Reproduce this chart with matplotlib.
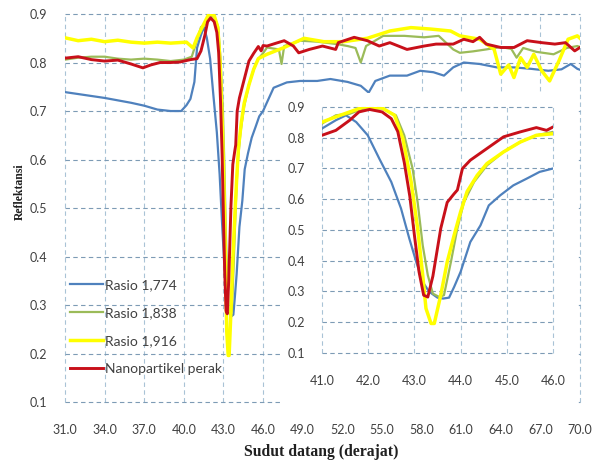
import matplotlib.pyplot as plt
from matplotlib.patches import Rectangle

plt.rcParams['font.family'] = ['Lato', 'DejaVu Sans']

# --- data ---
rasio_1774_x = [31, 32, 33, 34, 35, 36, 37, 38, 39, 39.8,
                40.2, 40.5, 40.8, 41.0, 41.3, 41.52, 41.74, 41.99, 42.24, 42.5,
                42.71, 42.89, 43.04, 43.18, 43.32, 43.5, 43.62, 43.75, 43.86, 44.0,
                44.21, 44.43, 44.61, 44.86, 45.14, 45.43, 45.71, 46.0, 46.8, 47.8,
                48.8, 50.1, 51.1, 52.4, 53.4, 54.0, 54.5, 55.6, 56.9, 57.9,
                58.9, 59.7, 60.4, 61.2, 62.4, 63.7, 65.0, 66.3, 67.6, 68.6,
                69.3, 69.8, 70.0]
rasio_1774_y = [0.739, 0.735, 0.731, 0.727, 0.722, 0.717, 0.711, 0.703, 0.700, 0.700,
                0.712, 0.725, 0.760, 0.830, 0.857, 0.873, 0.851, 0.808, 0.732, 0.656,
                0.570, 0.472, 0.396, 0.331, 0.299, 0.280, 0.277, 0.280, 0.315, 0.364,
                0.461, 0.515, 0.580, 0.613, 0.645, 0.667, 0.689, 0.700, 0.748, 0.759,
                0.762, 0.762, 0.766, 0.760, 0.752, 0.738, 0.762, 0.773, 0.773, 0.783,
                0.780, 0.773, 0.790, 0.800, 0.797, 0.790, 0.790, 0.787, 0.783, 0.786,
                0.797, 0.787, 0.785]

rasio_1838_x = [31, 32, 33, 34, 35, 36, 37, 38, 39, 40,
                40.6, 41.0, 41.3, 41.6, 41.9, 42.3, 42.6, 42.78, 42.96, 43.07,
                43.18, 43.29, 43.4, 43.54, 43.64, 43.79, 43.93, 44.07, 44.29, 44.57,
                44.93, 45.29, 45.64, 46.0, 46.3, 47.2, 47.4, 47.6, 48.8, 50.1,
                51.6, 52.4, 53.0, 53.4, 53.8, 55.1, 56.7, 58.2, 59.3, 60.4,
                60.9, 61.9, 62.9, 64.0, 64.8, 65.2, 65.7, 66.7, 68.0, 69.0,
                69.8, 70.0]
rasio_1838_y = [0.806, 0.810, 0.812, 0.812, 0.808, 0.806, 0.808, 0.806, 0.803, 0.806,
                0.812, 0.846, 0.873, 0.878, 0.895, 0.895, 0.873, 0.808, 0.700, 0.590,
                0.450, 0.353, 0.293, 0.282, 0.288, 0.396, 0.505, 0.590, 0.656, 0.710,
                0.754, 0.786, 0.808, 0.819, 0.831, 0.827, 0.797, 0.834, 0.845, 0.843,
                0.838, 0.834, 0.830, 0.800, 0.834, 0.855, 0.855, 0.852, 0.855, 0.827,
                0.820, 0.823, 0.827, 0.832, 0.828, 0.810, 0.830, 0.822, 0.817, 0.830,
                0.834, 0.832]

rasio_1916_x = [31, 32, 33, 34, 35, 36, 37, 38, 39, 40.2,
                40.7, 41.0, 41.3, 41.6, 41.9, 42.3, 42.57, 42.75, 42.93, 43.07,
                43.18, 43.25, 43.36, 43.43, 43.57, 43.71, 43.86, 44.0, 44.14, 44.36,
                44.57, 44.93, 45.29, 45.64, 46.0, 46.3, 47.6, 49.1, 50.6, 52.1,
                53.9, 55.6, 57.2, 58.7, 60.2, 60.9, 62.4, 63.5, 64.0, 64.6,
                65.0, 65.5, 66.0, 66.5, 67.1, 67.7, 68.4, 69.1, 69.8, 70.0]
rasio_1916_y = [0.851, 0.845, 0.848, 0.843, 0.846, 0.842, 0.840, 0.842, 0.840, 0.842,
                0.830, 0.851, 0.868, 0.884, 0.900, 0.897, 0.873, 0.797, 0.656, 0.505,
                0.353, 0.245, 0.196, 0.196, 0.288, 0.396, 0.483, 0.559, 0.625, 0.678,
                0.716, 0.754, 0.786, 0.808, 0.813, 0.817, 0.831, 0.850, 0.843, 0.843,
                0.850, 0.865, 0.872, 0.869, 0.865, 0.855, 0.848, 0.827, 0.776, 0.795,
                0.769, 0.810, 0.790, 0.817, 0.783, 0.762, 0.803, 0.848, 0.855, 0.850]

perak_x = [31, 32, 33, 34, 35, 36, 36.9, 37.5, 38.2, 39,
           39.7, 40.5, 41.0, 41.3, 41.6, 41.8, 42.03, 42.3, 42.5, 42.64,
           42.78, 42.9, 43.0, 43.1, 43.2, 43.29, 43.4, 43.57, 43.71, 43.86,
           43.93, 44.04, 44.21, 44.57, 44.93, 45.29, 45.64, 45.86, 46.0, 46.3,
           47.0, 47.6, 48.3, 48.7, 49.5, 50.5, 51.5, 51.7, 52.9, 53.9,
           54.8, 55.6, 56.9, 58.2, 59.1, 60.4, 61.2, 61.9, 62.4, 62.9,
           64.0, 65.0, 66.0, 67.1, 68.1, 68.9, 69.6, 70.0]
perak_y = [0.809, 0.812, 0.806, 0.803, 0.805, 0.797, 0.789, 0.795, 0.800, 0.800,
           0.801, 0.806, 0.808, 0.824, 0.857, 0.884, 0.892, 0.884, 0.862, 0.820,
           0.720, 0.610, 0.483, 0.364, 0.288, 0.282, 0.350, 0.505, 0.590, 0.618,
           0.630, 0.700, 0.727, 0.765, 0.803, 0.819, 0.833, 0.824, 0.835, 0.834,
           0.840, 0.845, 0.834, 0.820, 0.827, 0.834, 0.827, 0.841, 0.852, 0.845,
           0.834, 0.841, 0.827, 0.834, 0.838, 0.838, 0.848, 0.843, 0.852, 0.838,
           0.831, 0.831, 0.845, 0.841, 0.838, 0.841, 0.824, 0.831]

series_labels = ['Rasio 1,774', 'Rasio 1,838', 'Rasio 1,916', 'Nanopartikel perak']
main_xticks = [31.0, 34.0, 37.0, 40.0, 43.0, 46.0, 49.0, 52.0, 55.0, 58.0, 61.0, 64.0, 67.0, 70.0]
inset_xticks = [41.0, 42.0, 43.0, 44.0, 45.0, 46.0]
yticks = [0.1, 0.2, 0.3, 0.4, 0.5, 0.6, 0.7, 0.8, 0.9]

series = [(rasio_1774_x, rasio_1774_y, '#4f81bd', 1.6),
          (rasio_1838_x, rasio_1838_y, '#9bbb59', 1.6),
          (rasio_1916_x, rasio_1916_y, '#ffff00', 2.5),
          (perak_x, perak_y, '#c8101a', 2.1)]

grid_h = '#7d9bb5'
grid_v = '#a9c3d6'
tick_col = '#404040'


def style_axes(ax, xticks, xpad, ypad):
    for s in ax.spines.values():
        s.set_visible(False)
    ax.set_xticks(xticks)
    ax.set_xticklabels([f'{v:.1f}' for v in xticks])
    ax.set_yticks(yticks)
    ax.set_yticklabels([f'{v:.1f}' for v in yticks])
    ax.tick_params(axis='x', length=0, pad=xpad, labelsize=9, labelcolor=tick_col)
    ax.tick_params(axis='y', length=0, pad=ypad, labelsize=9, labelcolor=tick_col)
    ax.grid(True, axis='y', color=grid_h, linestyle=(0, (4, 3)), linewidth=0.8)
    ax.grid(True, axis='x', color=grid_v, linestyle=(0, (4, 3)), linewidth=0.8)
    ax.set_axisbelow(True)
    for l in ax.get_xgridlines() + ax.get_ygridlines():
        l.set_clip_on(False)


fig = plt.figure(figsize=(5.94, 4.66), dpi=100)

# --- main chart ---
ax = fig.add_axes([0.1094, 0.1373, 0.867, 0.8326])
ax.set_zorder(1)
for (xs, ys, c, lw), lab in zip(series, series_labels):
    ax.plot(xs, ys, color=c, linewidth=lw, label=lab)
ax.set_xlim(31, 70)
ax.set_ylim(0.1, 0.9)
style_axes(ax, main_xticks, 15.5, 13)

ax.legend(loc='upper left', bbox_to_anchor=(70 / 594, 1 - 279 / 466),
          bbox_transform=fig.transFigure, frameon=False, fontsize=10,
          labelcolor=tick_col, borderpad=0, borderaxespad=0,
          handlelength=2.4, handletextpad=0.15, labelspacing=1.15)

# white patch behind the zoomed inset
fig.add_artist(Rectangle((0.4714, 0.133), 0.5, 0.667, transform=fig.transFigure,
                         facecolor='white', edgecolor='none', zorder=2))

# --- inset zoom 41-46 ---
axin = fig.add_axes([0.5421, 0.2425, 0.3889, 0.5279])
axin.set_zorder(3)
axin.patch.set_alpha(0)
for xs, ys, c, lw in series:
    axin.plot(xs, ys, color=c, linewidth=lw)
axin.set_xlim(41, 46)
axin.set_ylim(0.1, 0.9)
style_axes(axin, inset_xticks, 16, 12)

fig.text(321 / 594, 1 - 452 / 466, 'Sudut datang (derajat)', family='Liberation Serif',
         fontweight='bold', fontsize=11.3, ha='center', va='center', color='#202020')
fig.text(20 / 594, 1 - 192 / 466, 'Reflektansi', family='Liberation Serif',
         fontweight='bold', fontsize=8.5, ha='center', va='center', rotation=90, color='#202020')

plt.savefig('out.png', dpi=100)
